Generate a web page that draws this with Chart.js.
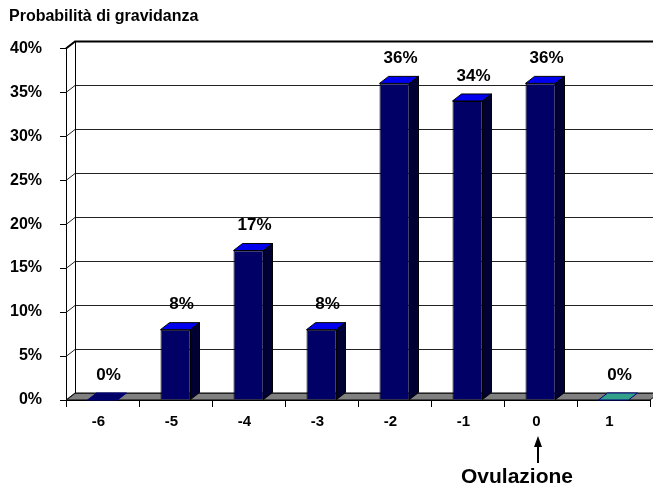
<!DOCTYPE html>
<html>
<head>
<meta charset="utf-8">
<script src="https://cdn.jsdelivr.net/npm/chart.js@4/dist/chart.umd.min.js"></script>
<style>
  html, body { margin: 0; padding: 0; background: #fff; }
</style>
</head>
<body>
<canvas id="pregChart" width="653" height="493"></canvas>
<script>
// days relative to ovulation and the chance of pregnancy (%)
const days = ['-6', '-5', '-4', '-3', '-2', '-1', '0', '1'];
const probability = [0, 8, 17, 8, 36, 34, 36, 0];
const barColors = ['#000066', '#000066', '#000066', '#000066', '#000066', '#000066', '#000066', '#33a08a'];
const yMax = 40;
const yStep = 5;

const FONT = "'Liberation Sans', Arial, sans-serif";
const DX = 9, DY = -7; // fake 3d depth

const depthPlugin = {
    id: 'depth',
    beforeDatasetsDraw(chart) {
        const { ctx, chartArea: a, scales: { y } } = chart;
        const y0 = y.getPixelForValue(0);
        ctx.save();
        // floor
        ctx.beginPath();
        ctx.moveTo(a.left, y0);
        ctx.lineTo(a.left + DX, y0 + DY);
        ctx.lineTo(a.right + DX, y0 + DY);
        ctx.lineTo(a.right, y0);
        ctx.closePath();
        ctx.fillStyle = '#808080';
        ctx.fill();
        ctx.strokeStyle = '#000';
        ctx.lineWidth = 1;
        ctx.stroke();
        // side wall diagonals + back wall gridlines
        y.ticks.forEach(t => {
            const py = Math.round(y.getPixelForValue(t.value)) + 0.5;
            ctx.beginPath();
            ctx.moveTo(a.left, py);
            ctx.lineTo(a.left + DX, py + DY);
            ctx.lineTo(chart.width, py + DY);
            ctx.lineWidth = t.value === yMax ? 2 : 1;
            ctx.strokeStyle = t.value === yMax ? '#000' : '#222';
            ctx.stroke();
        });
        // back wall left edge
        ctx.beginPath();
        ctx.moveTo(a.left + DX + 0.5, y.getPixelForValue(yMax) + DY);
        ctx.lineTo(a.left + DX + 0.5, y0 + DY);
        ctx.lineWidth = 1;
        ctx.strokeStyle = '#000';
        ctx.stroke();
        ctx.restore();
    },
    afterDatasetsDraw(chart) {
        const { ctx } = chart;
        const meta = chart.getDatasetMeta(0);
        ctx.save();
        ctx.lineWidth = 1;
        meta.data.forEach((bar, i) => {
            const { x, y, base, width } = bar.getProps(['x', 'y', 'base', 'width'], true);
            const l = x - width / 2, r = x + width / 2;
            const v = probability[i];
            // top face
            ctx.beginPath();
            ctx.moveTo(l, y);
            ctx.lineTo(l + DX, y + DY);
            ctx.lineTo(r + DX, y + DY);
            ctx.lineTo(r, y);
            ctx.closePath();
            ctx.fillStyle = v > 0 ? '#0000ee' : barColors[i];
            ctx.fill();
            ctx.strokeStyle = v > 0 ? '#000' : '#000080';
            ctx.stroke();
            // side face
            if (v > 0) {
                ctx.beginPath();
                ctx.moveTo(r, y);
                ctx.lineTo(r + DX, y + DY);
                ctx.lineTo(r + DX, base + DY);
                ctx.lineTo(r, base);
                ctx.closePath();
                ctx.fillStyle = '#000033';
                ctx.fill();
                ctx.strokeStyle = '#000';
                ctx.stroke();
            }
            // value label
            ctx.fillStyle = '#000';
            ctx.font = 'bold 17px ' + FONT;
            ctx.textAlign = 'center';
            ctx.textBaseline = 'middle';
            ctx.fillText(v + '%', x + 6, y + DY - 18);
        });
        ctx.restore();
    },
    afterDraw(chart) {
        const { ctx, scales: { x } } = chart;
        const ax = Math.round(x.getPixelForValue(days.indexOf('0'))) - 3;
        ctx.save();
        ctx.strokeStyle = '#000';
        ctx.fillStyle = '#000';
        ctx.lineWidth = 2;
        ctx.beginPath();
        ctx.moveTo(ax, 445);
        ctx.lineTo(ax, 463);
        ctx.stroke();
        ctx.beginPath();
        ctx.moveTo(ax, 436);
        ctx.lineTo(ax - 4, 447);
        ctx.lineTo(ax + 4, 447);
        ctx.closePath();
        ctx.fill();
        ctx.font = 'bold 21px ' + FONT;
        ctx.textAlign = 'center';
        ctx.textBaseline = 'middle';
        ctx.fillText('Ovulazione', ax - 21, 477);
        ctx.restore();
    }
};

const ctx = document.getElementById('pregChart').getContext('2d');
new Chart(ctx, {
    type: 'bar',
    data: {
        labels: days,
        datasets: [{
            data: probability,
            backgroundColor: barColors,
            borderColor: '#000',
            borderWidth: 1,
            barPercentage: 30 / 73,
            categoryPercentage: 1
        }]
    },
    options: {
        responsive: false,
        animation: false,
        events: [],
        layout: { padding: { left: 9, right: 3, top: 0, bottom: 0 } },
        scales: {
            x: {
                ticks: {
                    color: '#000',
                    font: { family: FONT, size: 15, weight: 'bold' },
                    labelOffset: -4,
                    padding: 6
                },
                grid: { drawOnChartArea: false, drawTicks: true, tickLength: 7, color: '#000', offset: true },
                border: { color: '#000' },
                afterFit(scale) { scale.height = 93; }
            },
            y: {
                min: 0,
                max: yMax,
                ticks: {
                    stepSize: yStep,
                    color: '#000',
                    font: { family: FONT, size: 16, weight: 'bold' },
                    padding: 18,
                    callback: v => v + '%'
                },
                grid: { drawOnChartArea: false, drawTicks: true, tickLength: 6, color: '#000' },
                border: { color: '#000' },
                afterFit(scale) { scale.width = 57; }
            }
        },
        plugins: {
            legend: { display: false },
            tooltip: { enabled: false },
            title: {
                display: true,
                text: 'Probabilità di gravidanza',
                align: 'start',
                color: '#000',
                font: { family: FONT, size: 16, weight: 'bold' },
                padding: { top: 7, bottom: 22 }
            }
        }
    },
    plugins: [depthPlugin]
});
</script>
</body>
</html>
